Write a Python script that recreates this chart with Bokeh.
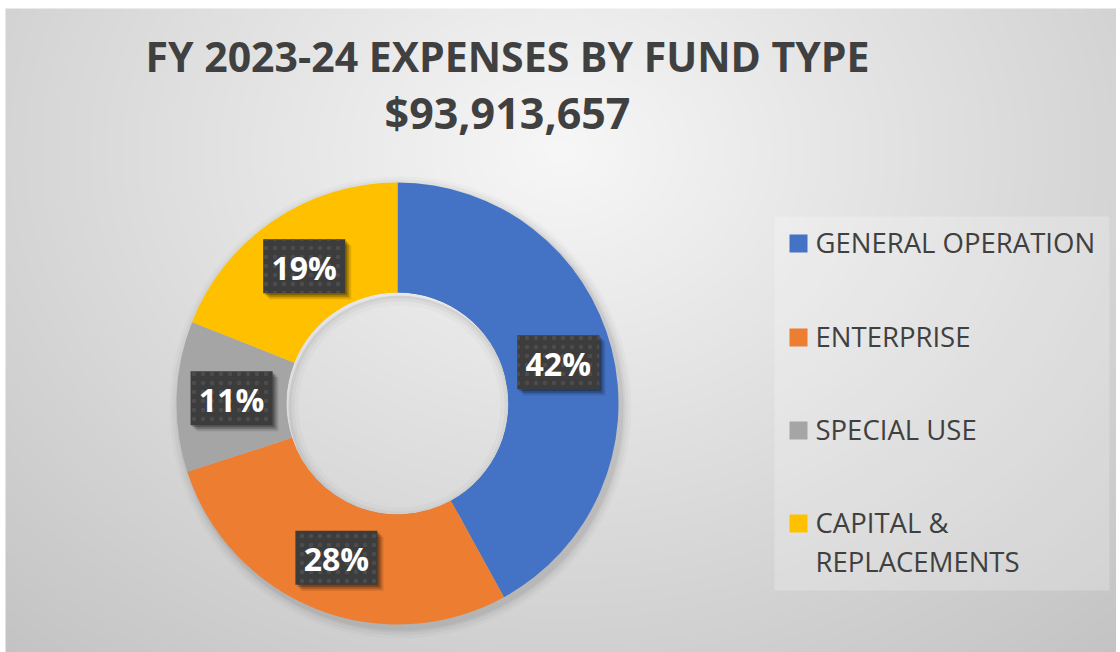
import numpy as np
from bokeh.plotting import figure
from bokeh.models import Range1d
from bokeh.core.properties import value
from bokeh.embed import file_html
from bokeh.resources import INLINE

# ---- data ----
categories = ["GENERAL OPERATION", "ENTERPRISE", "SPECIAL USE", "CAPITAL & REPLACEMENTS"]
legend_lines = ["GENERAL OPERATION", "ENTERPRISE", "SPECIAL USE", "CAPITAL &\nREPLACEMENTS"]
percentages = [42, 28, 11, 19]
colors = ["#4472C4", "#ED7D31", "#A5A5A5", "#FFC000"]
title_text = "FY 2023-24 EXPENSES BY FUND TYPE"
total_text = "$93,913,657"

W, H = 1116, 652
p = figure(width=W, height=H, x_range=Range1d(0, W), y_range=Range1d(0, H),
           output_backend="svg", toolbar_location=None, min_border=0,
           x_axis_location=None, y_axis_location=None)
p.grid.visible = False
p.outline_line_color = None
p.border_fill_color = "#ffffff"
p.background_fill_color = "#ffffff"

# ---- radial gradient background (decoration) ----
X0, YT = 5, 8  # chart area starts here (page coords)
BW, BH = W - X0, H - YT
xs = X0 + np.arange(BW)[None, :]
ys_top = (H - 1 - np.arange(BH))[:, None]  # row 0 = bottom
d = np.sqrt(((xs - 560) / 650.0) ** 2 + ((ys_top - 150) / 520.0) ** 2)
g = np.clip(247 - 40 * d, 185, 250).astype(np.uint32)
img = (255 << 24) | (g << 16) | (g << 8) | g
p.image_rgba(image=[img.astype(np.uint32)], x=X0, y=0, dw=BW, dh=BH)

# ---- donut ----
cx, cy = 397, H - 403
r_out, r_in = 221, 111
frac = np.array(percentages, dtype=float) / sum(percentages)
cum_end = np.cumsum(frac)
cum_start = cum_end - frac
start_angle = np.pi / 2 - 2 * np.pi * cum_end
end_angle = np.pi / 2 - 2 * np.pi * cum_start

# soft outer shadow (ring only)
for k, a in [(10, 0.02), (7, 0.03), (4, 0.04), (2, 0.05)]:
    p.annulus(x=cx + 3, y=cy - 4, inner_radius=r_in + 20, outer_radius=r_out + k,
              inner_radius_units="screen", outer_radius_units="screen",
              fill_color="black", fill_alpha=a, line_color=None)

p.annular_wedge(x=cx, y=cy, inner_radius=r_in, outer_radius=r_out,
                inner_radius_units="screen", outer_radius_units="screen",
                start_angle=start_angle, end_angle=end_angle,
                fill_color=colors, line_color=None)

# inner hole shading
for k, a in [(10, 0.02), (6, 0.03), (3, 0.04)]:
    p.annulus(x=cx + 2, y=cy - 3, inner_radius=r_in - k, outer_radius=r_in,
              inner_radius_units="screen", outer_radius_units="screen",
              fill_color="black", fill_alpha=a, line_color=None)
p.annular_wedge(x=cx, y=cy, inner_radius=r_in, outer_radius=r_in + 14,
                inner_radius_units="screen", outer_radius_units="screen",
                start_angle=start_angle, end_angle=end_angle,
                fill_color=colors, line_color=None)

# ---- data labels ----
mid = 2 * np.pi * (cum_start + frac / 2)
r_mid = (r_in + r_out) / 2
lx = cx + r_mid * np.sin(mid)
ly = cy + r_mid * np.cos(mid)
labels = [f"{v}%" for v in percentages]
for dx, dy, a in [(6, -6, 0.12), (4, -4, 0.2), (2, -2, 0.25)]:
    p.rect(x=lx + dx, y=ly + dy, width=82, height=54, width_units="screen",
           height_units="screen", fill_color="black", fill_alpha=a, line_color=None)
p.rect(x=lx, y=ly, width=82, height=54, width_units="screen", height_units="screen",
       fill_color="#3c3c3c", line_color=None,
       hatch_pattern="dot", hatch_color="#505050", hatch_scale=9, hatch_alpha=0.8)
p.text(x=lx, y=ly - 1, text=labels, text_align="center", text_baseline="middle",
       text_font=value("Open Sans"), text_font_style="bold", text_font_size="32px",
       text_color="#ffffff")

# ---- titles ----
p.text(x=[507], y=[H - 55], text=[title_text], text_align="center", text_baseline="middle",
       text_font=value("Open Sans"), text_font_style="bold", text_font_size="41px",
       text_color="#404040")
p.text(x=[507], y=[H - 112], text=[total_text], text_align="center", text_baseline="middle",
       text_font=value("Open Sans"), text_font_style="bold", text_font_size="43px",
       text_color="#404040")

# ---- legend ----
p.rect(x=[941.5], y=[H - 403], width=335, height=374, fill_color="#ffffff",
       fill_alpha=0.22, line_color=None)
leg_y = H - np.array([243, 337, 430, 523])
p.rect(x=[798] * 4, y=leg_y, width=18, height=18, fill_color=colors, line_color=None)
p.text(x=[815] * 4, y=leg_y + 19.5, text=legend_lines, text_align="left", text_baseline="top",
       text_font=value("Open Sans"), text_font_size="27.5px", text_color="#404040",
       text_line_height=1.05)

open("out.html", "w").write(file_html(p, INLINE))
